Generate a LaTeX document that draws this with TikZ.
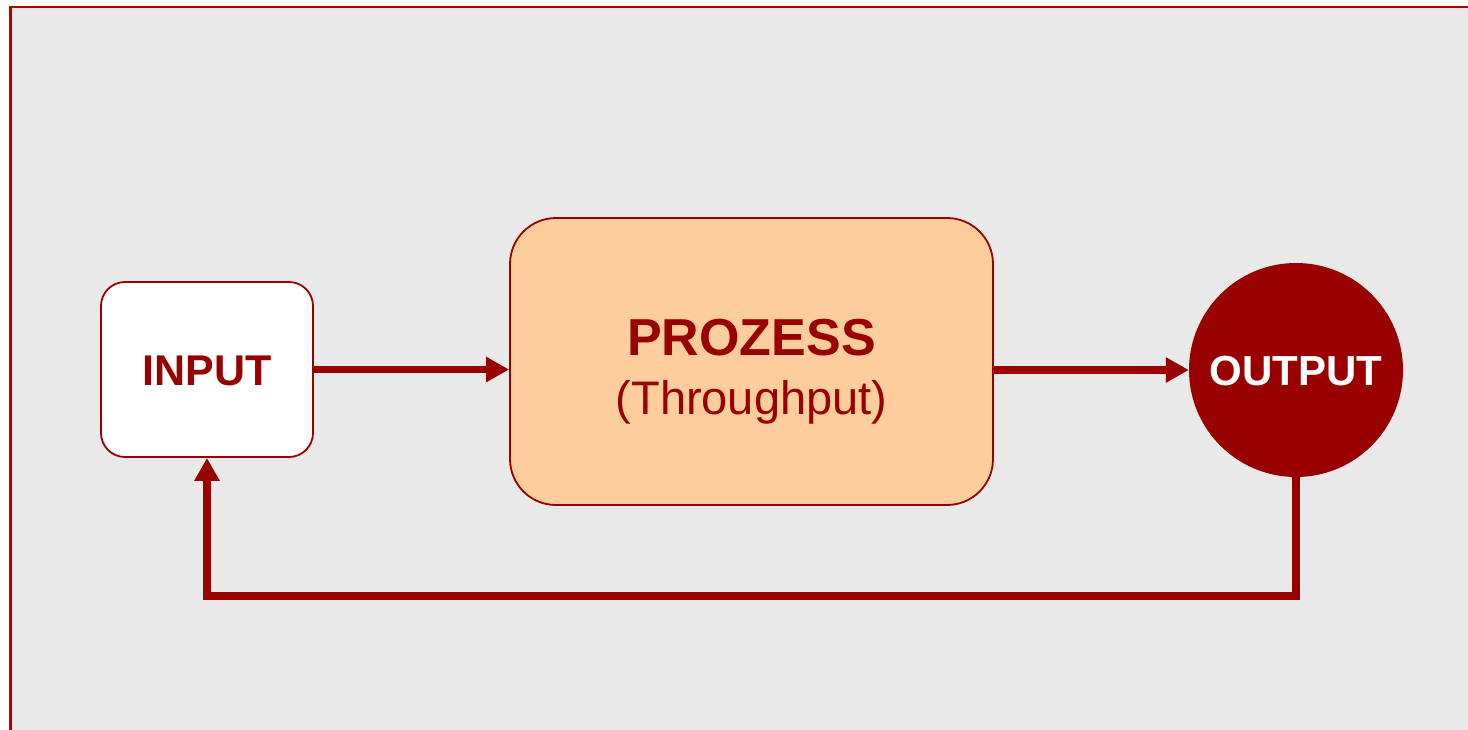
\documentclass[tikz,border=0pt]{standalone}
\usepackage{fontspec}
\setmainfont{Liberation Sans}
\usetikzlibrary{arrows.meta}
\definecolor{dred}{HTML}{990000}
\definecolor{bred}{HTML}{B80000}
\definecolor{bg}{HTML}{E9E9E9}
\definecolor{peach}{HTML}{FDCD9C}
\tikzset{
  conn/.style={draw=dred, line width=7.5pt, -{Triangle[length=23pt,width=24pt]}},
  inbox/.style={draw=dred, line width=1.8pt, fill=white, rounded corners=24pt, minimum width=212pt, minimum height=175pt, inner sep=0pt},
  procbox/.style={draw=dred, line width=1.8pt, fill=peach, rounded corners=46pt, minimum width=483pt, minimum height=287pt, inner sep=0pt},
  outcirc/.style={circle, fill=dred, minimum size=214pt, inner sep=0pt},
  frame/.style={bred, line width=2.5pt}
}
\begin{document}
\begin{tikzpicture}[x=1pt,y=-1pt]
\useasboundingbox (0,0) rectangle (1468,729);
\begin{scope}
\clip (0,0) rectangle (1468,729);
\fill[white] (-5,-5) rectangle (1480,740);
\fill[bg] (10.5,7) rectangle (1480,740);
\draw[frame] (10.5,740) -- (10.5,7) -- (1480,7);
\end{scope}
\node[inbox] (input) at (207,369.5) {};
\node[text=dred, font=\bfseries\fontsize{43}{43}\selectfont] (intext) at (207,370.5) {INPUT};
\node[procbox] (proc) at (751.5,361.5) {};
\node[text=dred, font=\bfseries\fontsize{52}{52}\selectfont, anchor=base] (ptitle) at (751.5,355) {PROZESS};
\node[text=dred, font=\fontsize{47}{47}\selectfont, anchor=base] (psub) at (751.5,414) {(Throughput)};
\node[outcirc] (output) at (1296,370) {};
\node[text=white, font=\bfseries\fontsize{42}{42}\selectfont] (outtext) at (1296,371.5) {OUTPUT};
\coordinate (fbR) at (1296,596);
\coordinate (fbL) at (207,596);
\draw[conn] (input.east) -- (input.east -| proc.west);
\draw[conn] (proc.east |- output.west) -- (output.west);
\draw[conn] (output.south) -- (fbR) -- (fbL) -- (input.south);
\end{tikzpicture}
\end{document}
